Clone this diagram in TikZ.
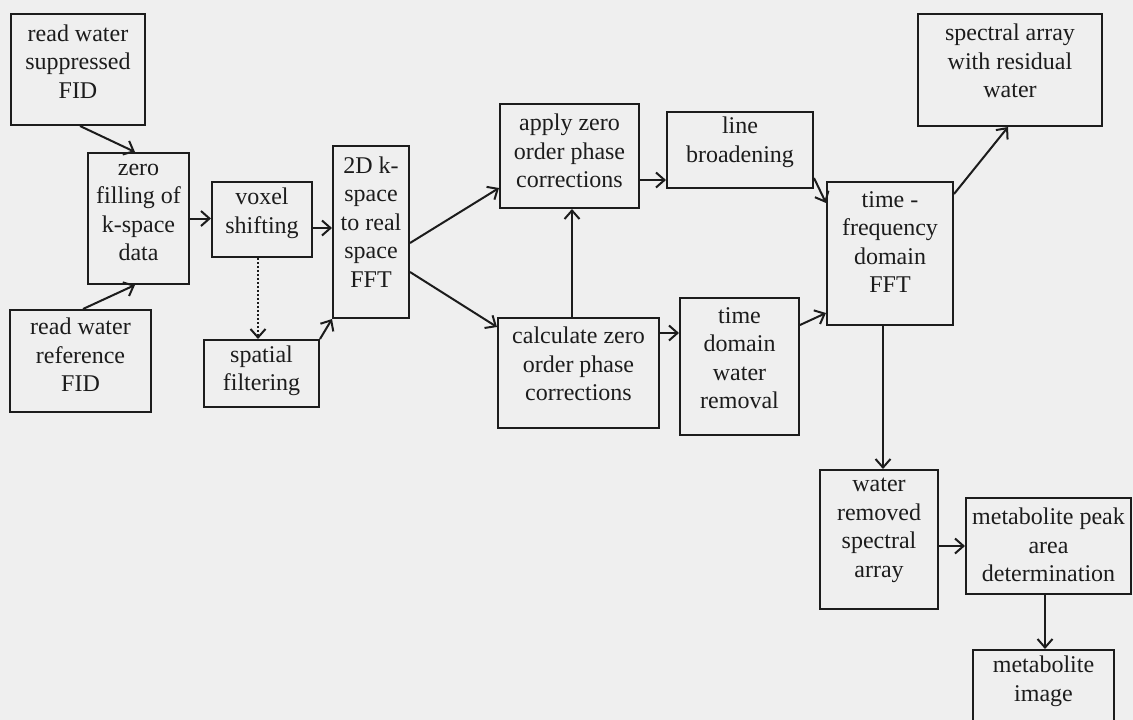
\documentclass[tikz,border=0pt]{standalone}
\usepackage{fontspec}
\setmainfont{Liberation Serif}
\usetikzlibrary{arrows.meta}
\definecolor{bgc}{HTML}{EFEFEF}
\definecolor{ink}{HTML}{1C1C1C}
\tikzset{
  box/.style={draw=ink, line width=2pt, inner sep=0pt, fill=none},
  txt/.style={align=center, text=ink, inner sep=0pt, font=\fontsize{24}{28.5}\selectfont},
  conn/.style={draw=ink, line width=2pt, -{Straight Barb[length=8.5pt,width=15pt,line width=2pt]}},
  dotconn/.style={conn, dotted}
}
\begin{document}
\begin{tikzpicture}[x=1pt,y=-1pt]
\useasboundingbox (0,0) rectangle (1133,720);
\fill[bgc] (0,0) rectangle (1133,720);
% boxes
\node[box, minimum width=134, minimum height=111] (A) at (78,69.5) {};
\node[txt] at ([yshift=8pt]A.center) {read water\\suppressed\\FID};
\node[box, minimum width=101, minimum height=131] (B) at (138.5,218.5) {};
\node[txt] at ([yshift=6pt]B.center) {zero\\filling of\\k-space\\data};
\node[box, minimum width=141, minimum height=102] (C) at (80.5,361) {};
\node[txt] at ([yshift=6pt]C.center) {read water\\reference\\FID};
\node[box, minimum width=100, minimum height=75] (D) at (262,219.5) {};
\node[txt] at ([yshift=6pt]D.center) {voxel\\shifting};
\node[box, minimum width=115, minimum height=67] (E) at (261.5,373.5) {};
\node[txt] at ([yshift=2.5pt]E.center) {spatial\\filtering};
\node[box, minimum width=76, minimum height=172] (F) at (371,232) {};
\node[txt] at ([yshift=10pt]F.center) {2D k-\\space\\to real\\space\\FFT};
\node[box, minimum width=139, minimum height=104] (G) at (569.5,156) {};
\node[txt] at ([yshift=5pt]G.center) {apply zero\\order phase\\corrections};
\node[box, minimum width=146, minimum height=76] (H) at (740,150) {};
\node[txt] at ([yshift=7.5pt]H.center) {line\\broadening};
\node[box, minimum width=161, minimum height=110] (I) at (578.5,373) {};
\node[txt] at ([yshift=9pt]I.center) {calculate zero\\order phase\\corrections};
\node[box, minimum width=119, minimum height=137] (J) at (739.5,366.5) {};
\node[txt] at ([yshift=8.5pt]J.center) {time\\domain\\water\\removal};
\node[box, minimum width=126, minimum height=143] (K) at (890,253.5) {};
\node[txt] at ([yshift=11.5pt]K.center) {time -\\frequency\\domain\\FFT};
\node[box, minimum width=184, minimum height=112] (L) at (1010,70) {};
\node[txt] at ([yshift=9pt]L.center) {spectral array\\with residual\\water};
\node[box, minimum width=118, minimum height=139] (M) at (879,539.5) {};
\node[txt] at ([yshift=9pt]M.center) {water\\removed\\spectral\\array};
\node[box, minimum width=165, minimum height=96] (N) at (1048.5,546) {};
\node[txt] at ([yshift=1pt]N.center) {metabolite peak\\area\\determination};
\node[box, minimum width=141, minimum height=90] (O) at (1043.5,695) {};
\node[txt] at ([yshift=13.5pt]O.center) {metabolite\\image};
% connectors
\draw[conn] ([xshift=2pt]A.south) -- ([xshift=-3.5pt]B.north);
\draw[conn] ([xshift=2.5pt]C.north) -- ([xshift=-3.5pt]B.south);
\draw[conn] (B.east) -- (B.east -| D.west);
\draw[conn] ([yshift=-8.5pt]D.east) -- ([yshift=-8.5pt]D.east -| F.west);
\draw[dotconn] ([xshift=-4pt]D.south) -- ([xshift=-4pt]D.south |- E.north);
\draw[conn] (E.north east) -- (F.south west);
\draw[conn] ([yshift=-11pt]F.east) -- ([yshift=-32pt]G.west);
\draw[conn] ([yshift=-40pt]F.east) -- ([yshift=46pt]I.west);
\draw[conn] ([xshift=-6.5pt]I.north) -- ([xshift=-6.5pt]I.north |- G.south);
\draw[conn] ([yshift=-24pt]G.east) -- ([yshift=-24pt]G.east -| H.west);
\draw[conn] ([yshift=40pt]I.east) -- ([yshift=40pt]I.east -| J.west);
\draw[conn] ([yshift=11pt]H.south east) -- ([yshift=-22pt]K.north west);
\draw[conn] ([yshift=41.5pt]J.east) -- ([yshift=13pt]K.south west);
\draw[conn] ([yshift=-13pt]K.north east) -- ([xshift=-2pt]L.south);
\draw[conn] ([xshift=-7pt]K.south) -- ([xshift=-7pt]K.south |- M.north);
\draw[conn] ([yshift=-6.5pt]M.east) -- ([yshift=-6.5pt]M.east -| N.west);
\draw[conn] ([xshift=-3.5pt]N.south) -- ([xshift=-3.5pt]N.south |- O.north);
\end{tikzpicture}
\end{document}
